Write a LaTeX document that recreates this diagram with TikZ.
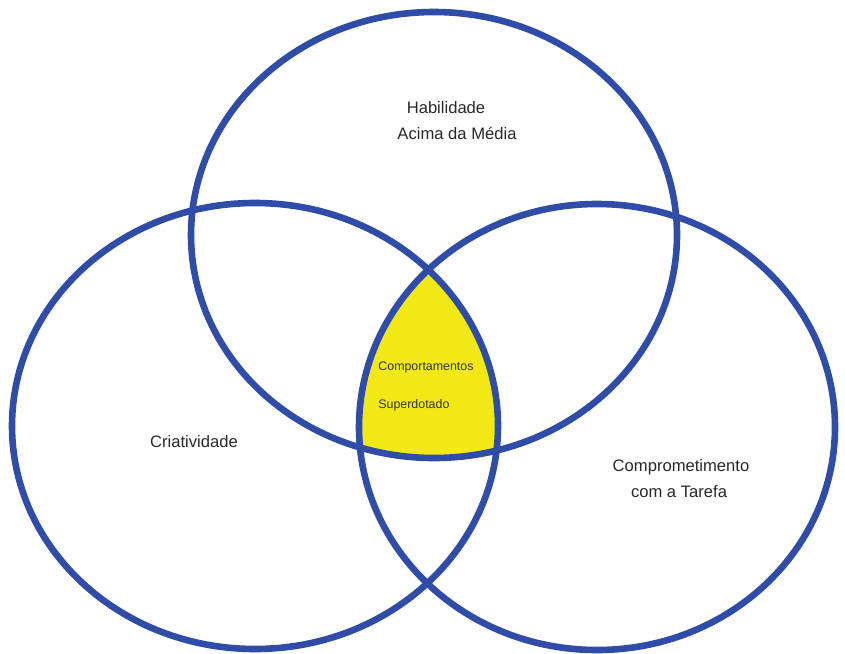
\documentclass[tikz,border=0pt]{standalone}
\usepackage{fontspec}
\setmainfont{Liberation Sans}
\usepackage{xcolor}
\definecolor{vennblue}{RGB}{46,76,168}
\definecolor{vennyellow}{RGB}{242,232,22}
\definecolor{venntext}{RGB}{40,40,40}

\begin{document}
\begin{tikzpicture}[
  x=0.5pt, y=-0.5pt,
  ring/.style={draw=vennblue, line width=3.3pt},
  setlabel/.style={font=\fontsize{8.3}{12}\selectfont, text=venntext,
    align=center, inner sep=0pt},
  corelabel/.style={font=\fontsize{6.2}{9}\selectfont, text=black!80,
    anchor=west, inner sep=0pt},
]
\useasboundingbox (0,0) rectangle (845,653);
% ====== SET CENTRES ======
\coordinate (c_hab) at (434,235);
\coordinate (c_cri) at (255,426);
\coordinate (c_com) at (597,427);
%
% ====== CORE (intersection of the three sets) ======
\begin{scope}
  \clip (c_hab) ellipse [x radius=121.5pt, y radius=111.5pt];
  \clip (c_cri) ellipse [x radius=121.5pt, y radius=111.5pt];
  \fill[vennyellow] (c_com) ellipse [x radius=119pt, y radius=111.5pt];
\end{scope}
%
% ====== RINGS ======
\draw[ring] (c_hab) ellipse [x radius=121.5pt, y radius=111.5pt];
\draw[ring] (c_cri) ellipse [x radius=121.5pt, y radius=111.5pt];
\draw[ring] (c_com) ellipse [x radius=119pt, y radius=111.5pt];
%
% ====== LABELS ======
\node[setlabel] (hab_l1) at (446,108) {Habilidade};
\node[setlabel] (hab_l2) at (457,133) {Acima da Média};
\node[setlabel] (cri_l) at (194,442) {Criatividade};
\node[setlabel] (com_l1) at (681,467) {Comprometimento};
\node[setlabel] (com_l2) at (679,492) {com a Tarefa};
\node[corelabel] (core_l1) at (378,367) {Comportamentos};
\node[corelabel] (core_l2) at (378,405) {Superdotado};
\end{tikzpicture}
\end{document}
